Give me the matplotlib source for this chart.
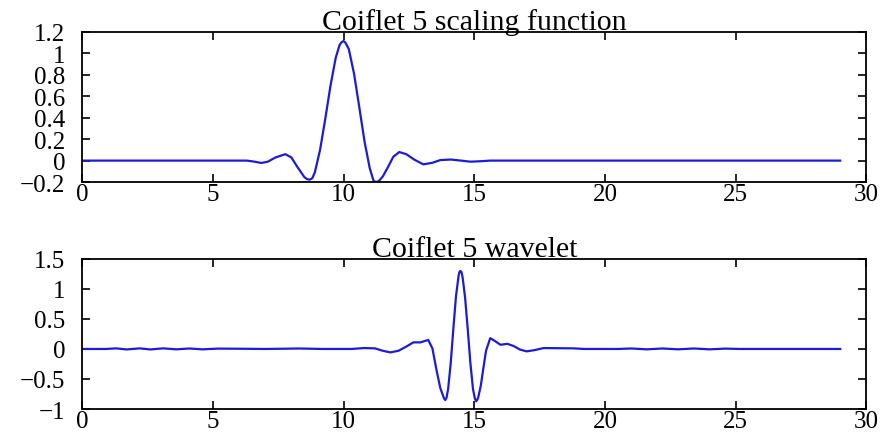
import matplotlib
matplotlib.use('Agg')
import matplotlib.pyplot as plt

# values
phi_t = [0, 6.3, 6.6, 6.85, 7.1, 7.4, 7.77, 8.0, 8.235, 8.5, 8.6, 8.7, 8.8, 8.9, 9.1, 9.3,
         9.5, 9.7, 9.85, 9.93, 10.0, 10.07, 10.2, 10.4, 10.6, 10.8, 11.0, 11.15, 11.25,
         11.35, 11.5, 11.7, 11.9, 12.13, 12.4, 12.7, 13.05, 13.4, 13.7, 14.1, 14.5, 14.85,
         15.3, 15.6, 29]
phi_v = [0, 0, -0.01, -0.022, -0.01, 0.03, 0.06, 0.03, -0.06, -0.154, -0.172, -0.178,
         -0.165, -0.11, 0.10, 0.39, 0.70, 0.96, 1.08, 1.105, 1.115, 1.10, 1.04, 0.81, 0.50,
         0.18, -0.07, -0.19, -0.2, -0.19, -0.148, -0.06, 0.035, 0.08, 0.06, 0.01, -0.035,
         -0.02, 0.005, 0.01, 0.0, -0.01, -0.005, 0, 0]

psi_t = [0, 0.9, 1.3, 1.7, 2.2, 2.6, 3.1, 3.6, 4.1, 4.6, 5.2, 6.0, 7.0, 8.3, 9.2, 10.3,
         10.77, 11.2, 11.5, 11.79, 12.1, 12.4, 12.67, 12.94, 13.24, 13.4, 13.55, 13.7,
         13.84, 13.89, 13.94, 14.0, 14.1, 14.2, 14.3, 14.4, 14.43, 14.47, 14.51, 14.55,
         14.65, 14.75, 14.85, 14.95, 15.02, 15.07, 15.11, 15.15, 15.25, 15.35, 15.45,
         15.61, 15.8, 16.0, 16.27, 16.5, 16.75, 17.0, 17.3, 17.65, 18.8, 19.2, 20.5, 21.0,
         21.6, 22.2, 22.8, 23.4, 24.0, 24.6, 25.2, 25.9, 29]
psi_v = [0, 0, 0.01, -0.008, 0.01, -0.008, 0.01, -0.006, 0.008, -0.006, 0.006, 0.004, 0.0,
         0.008, 0.0, 0.0, 0.015, 0.01, -0.03, -0.057, -0.03, 0.04, 0.11, 0.11, 0.15, 0.008,
         -0.34, -0.65, -0.82, -0.85, -0.81, -0.665, -0.23, 0.34, 0.875, 1.22, 1.28, 1.30,
         1.28, 1.205, 0.853, 0.329, -0.227, -0.663, -0.82, -0.87, -0.85, -0.81, -0.61,
         -0.315, -0.03, 0.18, 0.13, 0.07, 0.085, 0.05, -0.01, -0.04, -0.02, 0.015, 0.01,
         0.0, 0.0, 0.008, -0.006, 0.008, -0.006, 0.008, -0.006, 0.006, 0.0, 0.0, 0]

xticks = [0, 5, 10, 15, 20, 25, 30]
yticks_top = [-0.2, 0, 0.2, 0.4, 0.6, 0.8, 1, 1.2]
yticks_bot = [-1, -0.5, 0, 0.5, 1, 1.5]

plt.rcParams['font.family'] = ['Liberation Serif', 'DejaVu Serif']
plt.rcParams['font.size'] = 18

fig = plt.figure(figsize=(8.84, 4.39), dpi=100)
ax1 = fig.add_axes([0.093, 0.583, 0.887, 0.342])
ax2 = fig.add_axes([0.093, 0.066, 0.887, 0.342])


def fmt(v):
    return ('%g' % v).replace('-', '\u2212')


def style(ax, yticks, ylim):
    ax.set_xlim(0, 30)
    ax.set_ylim(*ylim)
    ax.set_xticks(xticks)
    ax.set_xticklabels([fmt(v) for v in xticks])
    ax.set_yticks(yticks)
    ax.set_yticklabels([fmt(v) for v in yticks])
    ax.tick_params(direction='in', top=True, right=True, length=6, width=1.2)
    ax.tick_params(axis='x', pad=1)
    ax.tick_params(axis='y', pad=12)
    for sp in ax.spines.values():
        sp.set_linewidth(1.3)


ax1.plot(phi_t, phi_v, color='#1c1cd6', lw=1.6)
style(ax1, yticks_top, (-0.2, 1.2))
ax1.set_title('Coiflet 5 scaling function', fontsize=21.5, pad=2)

ax2.plot(psi_t, psi_v, color='#1c1cd6', lw=1.6)
style(ax2, yticks_bot, (-1, 1.5))
ax2.set_title('Coiflet 5 wavelet', fontsize=21.5, pad=2)

fig.savefig('out.png', dpi=100)
